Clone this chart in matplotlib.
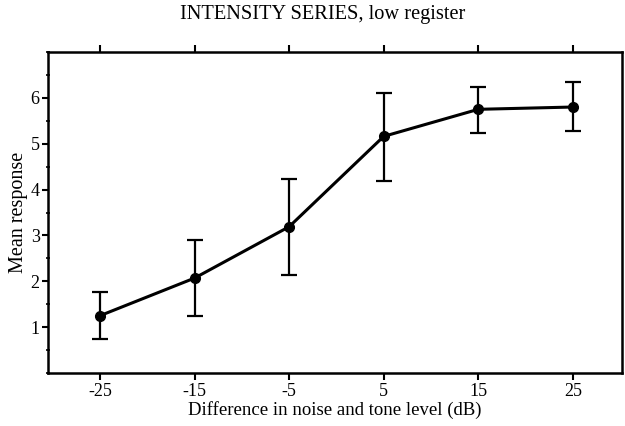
import matplotlib.pyplot as plt
from matplotlib.ticker import MultipleLocator

plt.rcParams['font.family'] = ['Liberation Serif', 'DejaVu Serif']

# data
level = [-25, -15, -5, 5, 15, 25]
mean_resp = [1.25, 2.07, 3.19, 5.16, 5.75, 5.80]
err_hi = [1.77, 2.89, 4.22, 6.11, 6.23, 6.35]
err_lo = [0.74, 1.24, 2.13, 4.19, 5.24, 5.27]
xticks = [-25, -15, -5, 5, 15, 25]
yticks = [1, 2, 3, 4, 5, 6]

yerr = [[m - lo for m, lo in zip(mean_resp, err_lo)],
        [hi - m for m, hi in zip(mean_resp, err_hi)]]

fig = plt.figure(figsize=(6.25, 4.26), dpi=100)
ax = fig.add_axes([48 / 625, 1 - 373 / 426, 574 / 625, 321 / 426])

ax.errorbar(level, mean_resp, yerr=yerr, color='black', lw=2.2,
            marker='o', ms=7, capsize=6, capthick=1.6, elinewidth=1.6)

ax.set_xlim(-30.5, 30.2)
ax.set_ylim(0, 7)
ax.set_xticks(xticks)
ax.set_xticklabels([str(v) for v in xticks])
ax.set_yticks(yticks)
ax.yaxis.set_minor_locator(MultipleLocator(0.5))

for s in ax.spines.values():
    s.set_linewidth(1.8)

ax.tick_params(axis='x', which='major', direction='out', length=5, width=1.5,
               top=True, labelsize=13, pad=2)
ax.tick_params(axis='y', which='major', direction='out', length=4, width=1.5,
               labelsize=13, pad=2)
ax.tick_params(axis='y', which='minor', direction='inout', length=3, width=1.2)

ax.set_xlabel('Difference in noise and tone level (dB)', fontsize=13.5, labelpad=1)
ax.set_ylabel('Mean response', fontsize=14.5, labelpad=1.5)
fig.text(323 / 625, 1 - 15 / 426, 'INTENSITY SERIES, low register',
         ha='center', va='center', fontsize=14.7)

fig.savefig('out.png', dpi=100)
